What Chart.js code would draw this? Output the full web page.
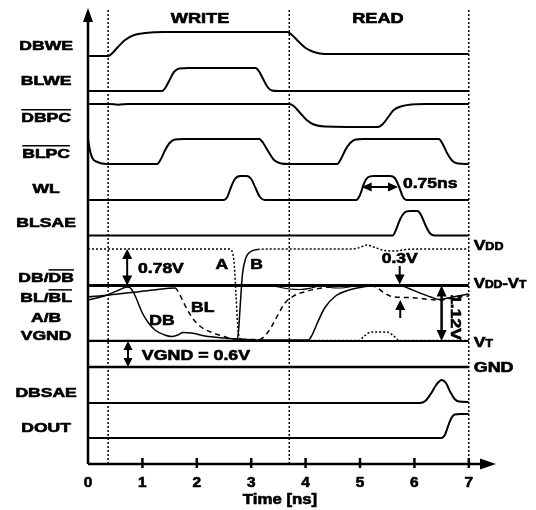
<!DOCTYPE html>
<html>
<head>
<meta charset="utf-8">
<script src="https://cdn.jsdelivr.net/npm/chart.js@4"></script>
<style>
  html, body { margin: 0; padding: 0; background: #fff; }
  #wrap { width: 536px; height: 510px; }
</style>
</head>
<body>
<div id="wrap"><canvas id="grafico" width="536" height="510"></canvas></div>
<script>
// time axis (ns) and phases
const timeTicks = [0, 1, 2, 3, 4, 5, 6, 7];
const phaseNames = ['WRITE', 'READ'];
const phaseBounds = [0.37, 3.7, 7];

// reference levels (diagram units)
const levelVdd = 215;
const levelVddVt = 178.5;
const levelVt = 123;
const levelGnd = 97;

// signal names on the left
const signalNames = ['DBWE', 'BLWE', 'DBPC', 'BLPC', 'WL', 'BLSAE', 'DB/DB', 'BL/BL', 'A/B', 'VGND', 'DBSAE', 'DOUT'];

// waveforms: [t (ns), level]
const dbwe = [[0,408],[0.37,408],[0.45,411],[0.55,417],[0.68,424],[0.85,429],[1.05,431],[1.4,432],[3.66,432],[3.75,429],[3.88,422],[4.0,416],[4.15,412],[4.35,410],[7,410]];
const blwe = [[0,373],[1.36,373],[1.42,376],[1.5,384],[1.58,392],[1.68,395.5],[1.85,396],[3.08,396],[3.14,393],[3.22,385],[3.3,377],[3.38,373.5],[3.5,373],[7,373]];
const dbpc = [[0,360],[0.4,360],[0.55,359.3],[0.75,360],[3.7,360],[3.78,358],[3.9,351],[4.02,344],[4.15,339.5],[4.35,337.5],[5.33,337],[5.42,340],[5.52,347],[5.62,354],[5.75,357.5],[5.95,359.5],[6.2,360],[7,360]];
const blpc = [[0,325],[0.03,315],[0.08,306],[0.17,302],[0.35,300],[1.27,300],[1.33,304],[1.42,314],[1.5,321],[1.6,324.5],[1.75,325],[3.15,325],[3.22,321],[3.32,312],[3.42,304],[3.55,300.5],[3.7,300],[4.58,300],[4.65,305],[4.73,314],[4.82,321],[4.92,324.5],[5.05,325],[6.45,325],[6.52,320],[6.6,311],[6.7,303],[6.8,300.5],[7,300]];
const wl = [[0,264],[2.5,264],[2.56,267],[2.63,277],[2.7,285],[2.8,288],[2.92,288],[3.0,285],[3.08,276],[3.16,267],[3.25,264],[4.93,264],[5.0,269],[5.07,280],[5.14,286.5],[5.25,288],[5.55,288],[5.64,286],[5.72,277],[5.79,267],[5.86,264],[7,264]];
const blsae = [[0,228.5],[5.6,228.5],[5.66,234],[5.74,245],[5.82,251.5],[5.92,253],[6.06,253],[6.13,248],[6.21,238],[6.29,230.5],[6.37,228.5],[7,228.5]];
const nodeA = [[0,215],[2.6,215],[2.66,211],[2.69,198],[2.72,170],[2.75,140],[2.78,127],[2.85,123.5],[4.98,123.5],[5.08,128],[5.2,132],[5.5,132],[5.62,128],[5.72,123.5],[7,123.5]];
const nodeB = [[0,123.5],[2.74,123.5],[2.77,135],[2.8,160],[2.84,190],[2.9,206],[2.98,212],[3.12,214.5],[3.4,215],[4.85,215],[5.0,216.5],[5.12,219],[5.25,217],[5.45,213.5],[5.65,213],[5.85,214.5],[6.1,215],[7,215]];
const db = [[0,164],[0.3,168],[0.55,173.5],[0.72,177],[0.78,176],[0.86,169],[0.99,152],[1.1,142],[1.23,134],[1.41,129],[1.54,127.5],[1.65,129],[1.75,131.5],[1.9,131],[2.15,128],[2.5,126],[2.9,124.5],[3.3,124],[4.05,124],[4.12,129],[4.2,139],[4.35,156],[4.55,168],[4.8,174],[5.05,177],[5.3,178.5],[5.74,178.5],[5.9,175.5],[6.1,171],[6.3,167],[6.47,164.5],[6.7,167],[7,170]];
const bl = [[0,167],[0.4,169],[0.8,171.5],[1.2,174],[1.6,176],[1.68,170],[1.78,159],[1.92,146],[2.08,137],[2.3,131],[2.5,127.5],[2.7,125],[3.15,124.5],[3.25,128],[3.37,137],[3.5,150],[3.62,161],[3.78,168],[4.0,172.5],[4.3,176],[4.6,178],[5.2,178.5],[5.32,176],[5.45,171],[5.62,167],[5.9,166.5],[6.45,164],[6.7,166],[7,168]];
const dbBar = [[2.95,179],[3.3,179],[3.5,177],[3.7,175],[3.9,174.5],[4.1,176],[4.3,178.5],[4.45,176.5],[4.65,176],[4.85,177.5],[5.0,179]];
const dbsae = [[0,61],[6.1,61],[6.2,63],[6.3,70],[6.4,79],[6.5,84],[6.58,81],[6.66,72],[6.74,65],[6.82,62.5],[7,62]];
const dout = [[0,26],[6.5,26],[6.56,29],[6.62,38],[6.68,46],[6.74,49.5],[6.85,50],[7,50]];

const FONT = '"Liberation Sans", Arial, sans-serif';

function pts(arr) {
    return arr.map(p => ({ x: p[0], y: p[1] }));
}

function serie(arr, width, extra) {
    return Object.assign({
        data: pts(arr),
        borderColor: '#000',
        borderWidth: width,
        pointRadius: 0,
        cubicInterpolationMode: 'monotone',
        fill: false
    }, extra || {});
}

// draws a row of text parts, optionally with overline / smaller size
function drawParts(ctx, parts, x, cy, align, sx) {
    const widths = parts.map(p => {
        ctx.font = 'bold ' + p.size + 'px ' + FONT;
        return ctx.measureText(p.s).width * sx;
    });
    const total = widths.reduce((a, b) => a + b, 0);
    let cx = align === 'center' ? x - total / 2 : (align === 'right' ? x - total : x);
    const base = cy + 0.36 * parts[0].size;
    parts.forEach((p, i) => {
        ctx.save();
        ctx.fillStyle = '#000';
        ctx.strokeStyle = '#000';
        ctx.lineWidth = 0.6; // texto mas grueso, como el original
        ctx.font = 'bold ' + p.size + 'px ' + FONT;
        ctx.textAlign = 'left';
        ctx.textBaseline = 'alphabetic';
        ctx.translate(cx, base);
        ctx.scale(sx, 1);
        ctx.fillText(p.s, 0, 0);
        ctx.strokeText(p.s, 0, 0);
        ctx.restore();
        if (p.bar) {
            ctx.save();
            ctx.strokeStyle = '#000';
            ctx.lineWidth = 1.5;
            ctx.beginPath();
            const yb = base - 0.716 * p.size - 2.5;
            ctx.moveTo(cx, yb);
            ctx.lineTo(cx + widths[i], yb);
            ctx.stroke();
            ctx.restore();
        }
        cx += widths[i];
    });
}

function arrowHead(ctx, x, y, dir, len, half) {
    ctx.beginPath();
    ctx.moveTo(x, y);
    if (dir === 'up') { ctx.lineTo(x - half, y + len); ctx.lineTo(x + half, y + len); }
    if (dir === 'down') { ctx.lineTo(x - half, y - len); ctx.lineTo(x + half, y - len); }
    if (dir === 'right') { ctx.lineTo(x - len, y - half); ctx.lineTo(x - len, y + half); }
    if (dir === 'left') { ctx.lineTo(x + len, y - half); ctx.lineTo(x + len, y + half); }
    ctx.closePath();
    ctx.fill();
}

const diagramPlugin = {
    id: 'diagram',
    beforeDraw(chart) {
        const ctx = chart.ctx;
        ctx.save();
        ctx.fillStyle = '#fff';
        ctx.fillRect(0, 0, chart.width, chart.height);
        ctx.restore();
    },
    afterDatasetsDraw(chart) {
        const ctx = chart.ctx;
        const xs = chart.scales.x;
        const ys = chart.scales.y;
        const px = t => xs.getPixelForValue(t);
        const py = v => ys.getPixelForValue(v);
        ctx.save();
        ctx.fillStyle = '#000';
        ctx.strokeStyle = '#000';

        // axes
        ctx.lineWidth = 2.5;
        ctx.beginPath();
        ctx.moveTo(px(0), py(0));
        ctx.lineTo(px(0), py(ys.max) + 10);
        ctx.moveTo(px(0), py(0));
        ctx.lineTo(px(xs.max) - 12, py(0));
        ctx.stroke();
        arrowHead(ctx, px(0), py(ys.max), 'up', 14, 5);
        arrowHead(ctx, px(xs.max), py(0), 'right', 16, 5.5);

        // ticks + labels
        timeTicks.forEach(t => {
            if (t > 0) {
                ctx.beginPath();
                ctx.moveTo(px(t), py(6));
                ctx.lineTo(px(t), py(-4));
                ctx.stroke();
            }
            drawParts(ctx, [{ s: String(t), size: 14 }], px(t), py(-18), 'center', 1.1);
        });
        drawParts(ctx, [{ s: 'Time [ns]', size: 14 }], px(3.53), py(-35), 'center', 1.2);

        // phase titles
        drawParts(ctx, [{ s: phaseNames[0], size: 14 }], px(2.06), py(446), 'center', 1.3);
        drawParts(ctx, [{ s: phaseNames[1], size: 14 }], px(5.33), py(446), 'center', 1.3);

        // left signal names
        const rows = [419, 384, 347, 311, 276, 242, 187, 167, 147, 129, 72, 37];
        signalNames.forEach((name, i) => {
            let parts;
            if (name === 'DBPC' || name === 'BLPC') {
                parts = [{ s: name, size: 13, bar: true }];
            } else if (name.indexOf('/') > 0 && name !== 'A/B') {
                const a = name.split('/');
                parts = [{ s: a[0], size: 13 }, { s: '/', size: 13 }, { s: a[1], size: 13, bar: true }];
            } else {
                parts = [{ s: name, size: 13 }];
            }
            drawParts(ctx, parts, px(-0.77), py(rows[i]), 'center', 1.35);
        });

        // right level names
        const rx = px(7.09);
        drawParts(ctx, [{ s: 'V', size: 14 }, { s: 'DD', size: 10 }], rx, py(levelVdd + 4), 'left', 1.25);
        drawParts(ctx, [{ s: 'V', size: 14 }, { s: 'DD', size: 10 }, { s: '-V', size: 14 }, { s: 'T', size: 10 }], rx, py(levelVddVt + 3), 'left', 1.2);
        drawParts(ctx, [{ s: 'V', size: 14 }, { s: 'T', size: 10 }], rx, py(levelVt - 1), 'left', 1.25);
        drawParts(ctx, [{ s: 'GND', size: 14 }], rx, py(levelGnd), 'left', 1.28);

        // annotations
        ctx.lineWidth = 2;
        // 0.78V
        ctx.beginPath();
        ctx.moveTo(px(0.72), py(levelVdd) + 6);
        ctx.lineTo(px(0.72), py(levelVddVt) - 6);
        ctx.stroke();
        arrowHead(ctx, px(0.72), py(levelVdd), 'up', 10, 5);
        arrowHead(ctx, px(0.72), py(levelVddVt), 'down', 10, 5);
        drawParts(ctx, [{ s: '0.78V', size: 14 }], px(0.92), py(196), 'left', 1.25);
        drawParts(ctx, [{ s: 'A', size: 14 }], px(2.46), py(200), 'center', 1.25);
        drawParts(ctx, [{ s: 'B', size: 14 }], px(3.1), py(200), 'center', 1.25);
        drawParts(ctx, [{ s: 'DB', size: 14 }], px(1.36), py(144), 'center', 1.25);
        drawParts(ctx, [{ s: 'BL', size: 14 }], px(2.11), py(157), 'center', 1.25);

        // VGND = 0.6V
        ctx.beginPath();
        ctx.moveTo(px(0.735), py(levelVt) + 6);
        ctx.lineTo(px(0.735), py(levelGnd) - 6);
        ctx.stroke();
        arrowHead(ctx, px(0.735), py(levelVt), 'up', 9, 4.5);
        arrowHead(ctx, px(0.735), py(levelGnd), 'down', 9, 4.5);
        drawParts(ctx, [{ s: 'VGND = 0.6V', size: 14 }], px(0.99), py(109), 'left', 1.27);

        // 0.3V
        ctx.beginPath();
        ctx.moveTo(px(5.73), py(198));
        ctx.lineTo(px(5.73), py(levelVddVt) - 6);
        ctx.moveTo(px(5.74), py(146));
        ctx.lineTo(px(5.74), py(164) + 6);
        ctx.stroke();
        arrowHead(ctx, px(5.73), py(levelVddVt + 1), 'down', 10, 5);
        arrowHead(ctx, px(5.74), py(164), 'up', 10, 5);
        drawParts(ctx, [{ s: '0.3V', size: 14 }], px(5.73), py(206), 'center', 1.25);

        // 0.75ns
        ctx.beginPath();
        ctx.moveTo(px(5.03) + 6, py(277));
        ctx.lineTo(px(5.7) - 6, py(277));
        ctx.stroke();
        arrowHead(ctx, px(5.03), py(277), 'left', 10, 4.5);
        arrowHead(ctx, px(5.7), py(277), 'right', 10, 4.5);
        drawParts(ctx, [{ s: '0.75ns', size: 14 }], px(5.79), py(281), 'left', 1.25);

        // 1.12V
        ctx.lineWidth = 2.5;
        ctx.beginPath();
        ctx.moveTo(px(6.5), py(levelVddVt) + 6);
        ctx.lineTo(px(6.5), py(levelVt) - 6);
        ctx.stroke();
        arrowHead(ctx, px(6.5), py(levelVddVt), 'up', 11, 5);
        arrowHead(ctx, px(6.5), py(levelVt), 'down', 11, 5);
        ctx.save();
        ctx.translate(px(6.76), py(147));
        ctx.rotate(Math.PI / 2);
        drawParts(ctx, [{ s: '1.12V', size: 14 }], 0, 0, 'center', 1.25);
        ctx.restore();

        ctx.restore();
    }
};

const dotted = [2, 2];
const datasets = [
    serie(dbwe, 2),
    serie(blwe, 2),
    serie(dbpc, 2),
    serie(blpc, 2),
    serie(wl, 2),
    serie(blsae, 2),
    serie(nodeA, 1.5, { borderDash: dotted }),
    serie(nodeB, 1.5, { segment: { borderDash: c => c.p0.parsed.x >= 3.1 ? dotted : undefined } }),
    serie([[0, levelVddVt], [7, levelVddVt]], 3),
    serie(db, 1.5),
    serie(bl, 1.5, { segment: { borderDash: c => c.p0.parsed.x >= 1.6 ? [5, 4] : undefined } }),
    serie(dbBar, 1.2),
    serie([[0, levelVt], [7, levelVt]], 2),
    serie([[0, levelGnd], [7, levelGnd]], 2.5),
    serie(dbsae, 2),
    serie(dout, 2)
];
phaseBounds.forEach(t => {
    datasets.push(serie([[t, 0], [t, 456]], 1.5, { borderDash: dotted, cubicInterpolationMode: 'default', tension: 0 }));
});

const chart = new Chart(document.getElementById('grafico'), {
    type: 'line',
    data: { datasets: datasets },
    options: {
        responsive: false,
        animation: false,
        devicePixelRatio: 1,
        layout: { padding: { left: 88, right: 40, top: 8, bottom: 46 } },
        plugins: { legend: { display: false }, tooltip: { enabled: false } },
        scales: {
            x: { type: 'linear', min: 0, max: 7.5, display: false },
            y: { type: 'linear', min: 0, max: 456, display: false }
        }
    },
    plugins: [diagramPlugin]
});
</script>
</body>
</html>
